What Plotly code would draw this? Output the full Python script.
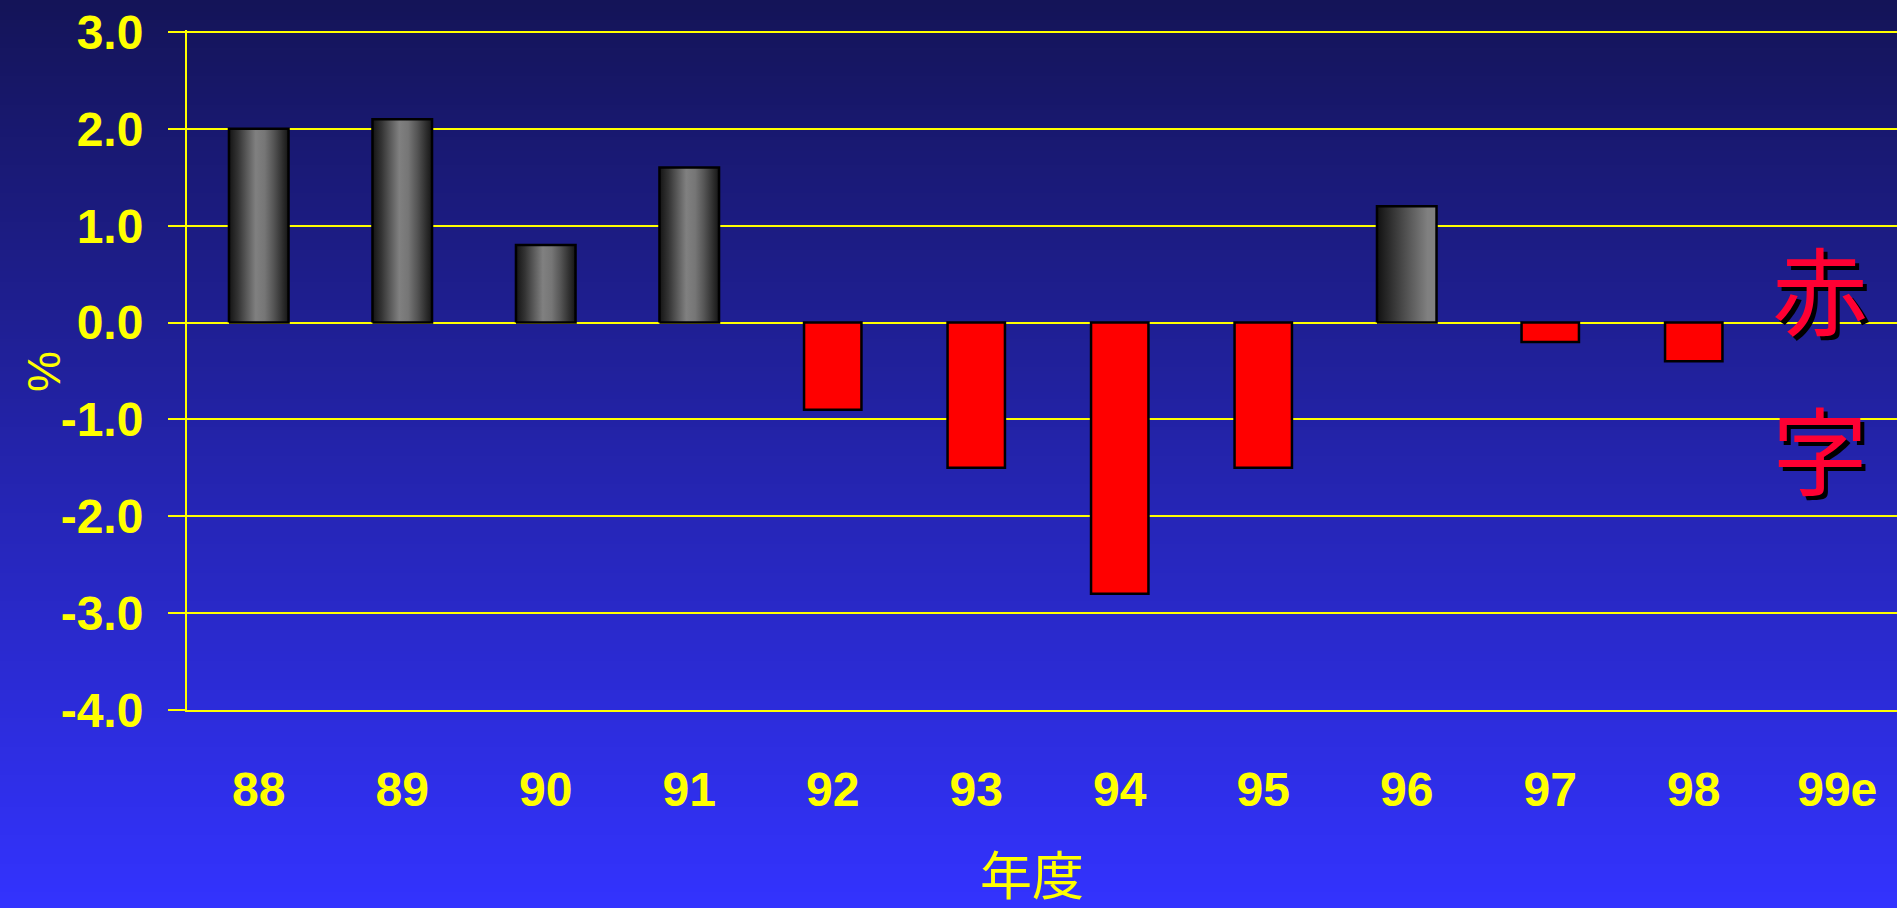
import base64
import struct
import zlib

import plotly.graph_objects as go

# Fiscal balance by year (% of GDP); 99e is an estimate with no bar
years = ["88", "89", "90", "91", "92", "93", "94", "95", "96", "97", "98", "99e"]
balance = [2.0, 2.1, 0.8, 1.6, -0.9, -1.5, -2.8, -1.5, 1.2, -0.2, -0.4, None]
y_ticks = [3.0, 2.0, 1.0, 0.0, -1.0, -2.0, -3.0, -4.0]

YELLOW = "#ffff00"
LABEL_FONT = "Liberation Sans, Arial, sans-serif"
CJK_FONT = "Noto Sans CJK JP, Noto Sans CJK SC, sans-serif"

# shading of the surplus columns
cylinder_shade = [[0.0, "#141414"], [0.15, "#333333"], [0.3, "#5a5a5a"], [0.45, "#808080"],
                  [0.6, "#767676"], [0.75, "#555555"], [0.9, "#2e2e2e"], [1.0, "#151515"]]
ramp_shade = [[0.0, "#111111"], [0.85, "#808080"], [1.0, "#808080"]]
ramp_years = {"96"}

W, H = 1897, 908
HEADROOM_PX = 2  # keeps the 3.0 grid line clear of the plot edge
M_L, M_R, M_T, M_B = 187, 0, 32 - HEADROOM_PX, 198
CAT_PX = 143.5  # pixel width of one year slot
x_end = -0.5 + (W - M_L - M_R) / CAT_PX
PX_PER_UNIT = 96.86
y_top = 3.0 + HEADROOM_PX / PX_PER_UNIT


def gradient_png(top, bottom, rows):
    """Vertical colour ramp as a tiny PNG data URI."""
    raw = b""
    for r in range(rows):
        t = r / (rows - 1)
        px = bytes(round(a + (b - a) * t) for a, b in zip(top, bottom))
        raw += b"\x00" + px * 2
    def chunk(tag, data):
        c = tag + data
        return struct.pack(">I", len(data)) + c + struct.pack(">I", zlib.crc32(c) & 0xFFFFFFFF)
    png = b"\x89PNG\r\n\x1a\n"
    png += chunk(b"IHDR", struct.pack(">IIBBBBB", 2, rows, 8, 2, 0, 0, 0))
    png += chunk(b"IDAT", zlib.compress(raw, 9))
    png += chunk(b"IEND", b"")
    return "data:image/png;base64," + base64.b64encode(png).decode()


fig = go.Figure()

# deficit years: plain red columns
neg_x = [i for i, v in enumerate(balance) if v is not None and v < 0]
neg_y = [balance[i] for i in neg_x]
fig.add_trace(go.Bar(
    x=neg_x, y=neg_y, width=0.40,
    marker=dict(color="#ff0000", line=dict(color="#000000", width=2.5)),
    hoverinfo="skip", showlegend=False,
))

# surplus years: shaded columns
half = 0.415 / 2
for i, v in enumerate(balance):
    if v is None or v < 0:
        continue
    shade = ramp_shade if years[i] in ramp_years else cylinder_shade
    fig.add_trace(go.Scatter(
        x=[i - half, i + half, i + half, i - half, i - half],
        y=[0, 0, v, v, 0],
        mode="lines", fill="toself",
        fillgradient=dict(type="horizontal", colorscale=shade),
        line=dict(color="#000000", width=2.5),
        hoverinfo="skip", showlegend=False,
    ))

pw = W - M_L - M_R
ph = H - M_T - M_B


def px_x(p):
    return (p - M_L) / pw


def px_y(p):
    return (H - M_B - p) / ph


fig.update_layout(
    width=W, height=H,
    margin=dict(l=M_L, r=M_R, t=M_T, b=M_B, pad=0),
    paper_bgcolor="#22229a",
    plot_bgcolor="rgba(0,0,0,0)",
    showlegend=False,
    images=[dict(
        source=gradient_png((20, 20, 88), (51, 51, 255), 256),
        xref="paper", yref="paper",
        x=px_x(0), y=px_y(0), sizex=px_x(W) - px_x(0), sizey=px_y(0) - px_y(H),
        xanchor="left", yanchor="top", sizing="stretch", layer="below",
    )],
    xaxis=dict(
        range=[-0.5, x_end],
        tickmode="array", tickvals=list(range(len(years))), ticktext=years,
        showgrid=False, zeroline=False,
        showline=True, linecolor=YELLOW, linewidth=2,
        ticks="", ticklabelstandoff=36,
        tickfont=dict(family=LABEL_FONT, size=48, color=YELLOW, weight="bold"),
        fixedrange=True,
    ),
    yaxis=dict(
        range=[-4, y_top],
        tickmode="array", tickvals=y_ticks, ticktext=[f"{v:.1f}" for v in y_ticks],
        showgrid=True, gridcolor=YELLOW, gridwidth=2, zeroline=False,
        showline=True, linecolor=YELLOW, linewidth=2,
        ticks="outside", ticklen=17, tickwidth=2, tickcolor=YELLOW,
        ticklabelstandoff=15,
        tickfont=dict(family=LABEL_FONT, size=48, color=YELLOW, weight="bold"),
        fixedrange=True,
    ),
    annotations=[
        dict(text="%", xref="paper", yref="paper", x=px_x(44), y=px_y(372),
             textangle=-90, showarrow=False, xanchor="center", yanchor="middle",
             font=dict(family=LABEL_FONT, size=46, color=YELLOW)),
        dict(text="年度", xref="paper", yref="paper", x=px_x(1032), y=px_y(872),
             showarrow=False, xanchor="center", yanchor="middle",
             font=dict(family=CJK_FONT, size=52, color=YELLOW)),
        dict(text="赤", xref="paper", yref="paper", x=px_x(1820), y=px_y(286),
             showarrow=False, xanchor="center", yanchor="middle",
             font=dict(family=CJK_FONT, size=96, color="#ff0033",
                       shadow="4px 4px 0px #000000")),
        dict(text="字", xref="paper", yref="paper", x=px_x(1820), y=px_y(446),
             showarrow=False, xanchor="center", yanchor="middle",
             font=dict(family=CJK_FONT, size=96, color="#ff0033",
                       shadow="4px 4px 0px #000000")),
    ],
)

fig.write_html("out.html", config={"displayModeBar": False})
